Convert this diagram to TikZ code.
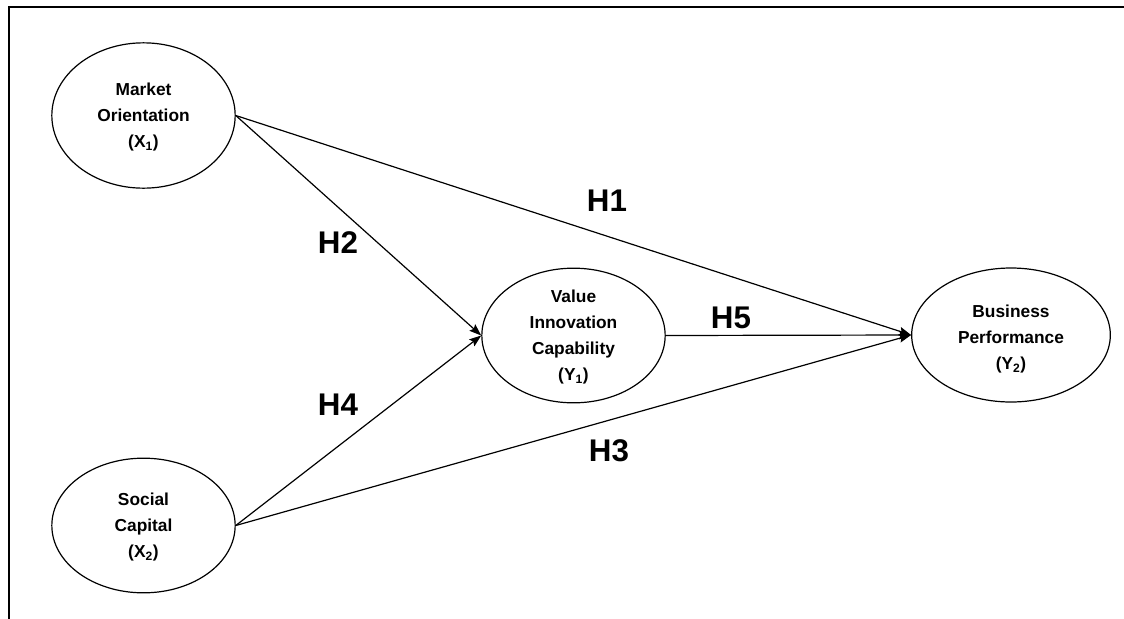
\documentclass[tikz,border=0pt]{standalone}
\usepackage{fontspec}
\setmainfont{Liberation Sans}
\usetikzlibrary{shapes.geometric,arrows.meta}
\tikzset{
  construct/.style={draw=black, line width=0.9pt, ellipse, inner sep=0pt},
  ctext/.style={align=center, font=\fontsize{13}{19.5}\selectfont\bfseries, inner sep=0pt},
  hyp/.style={font=\fontsize{23.5}{28}\selectfont\bfseries, inner sep=0pt},
  path/.style={draw=black, line width=0.9pt, -{Stealth[length=9pt,width=6.5pt,inset=1.5pt]}},
  frame/.style={draw=black, line width=1.3pt}
}
\begin{document}
\begin{tikzpicture}[x=0.75pt,y=-0.75pt]
\useasboundingbox (0,0) rectangle (1124,618);
% frame (top and left edges)
\coordinate (ftr) at (1130,7);
\coordinate (ftl) at (9,7);
\coordinate (fbl) at (9,625);
\draw[frame] (ftr) -- (ftl) -- (fbl);
% constructs
\node[construct, minimum width=137.5pt, minimum height=109pt] (mo) at (143.5,115.5) {};
\node[construct, minimum width=137.5pt, minimum height=101pt] (sc) at (143.5,525.5) {};
\node[construct, minimum width=137.5pt, minimum height=101pt] (vic) at (573.5,335.5) {};
\node[construct, minimum width=149pt, minimum height=100.5pt] (bp) at (1011,335) {};
\node[ctext] (mot) at (143.5,117) {Market\\Orientation\\(X\textsubscript{1})};
\node[ctext] (sct) at (143.5,527) {Social\\Capital\\(X\textsubscript{2})};
\node[ctext] (vict) at (573.5,337.5) {Value\\Innovation\\Capability\\(Y\textsubscript{1})};
\node[ctext] (bpt) at (1011,339) {Business\\Performance\\(Y\textsubscript{2})};
% paths
\draw[path] (mo.east) -- (bp.west);
\draw[path] (mo.east) -- (vic.west);
\draw[path] (sc.east) -- (vic.west);
\draw[path] (sc.east) -- (bp.west);
\draw[path] (vic.east) -- (bp.west);
% hypothesis labels
\node[hyp] (h1) at (607,201) {H1};
\node[hyp] (h2) at (338,243) {H2};
\node[hyp] (h3) at (609,451) {H3};
\node[hyp] (h4) at (338,405) {H4};
\node[hyp] (h5) at (731,318) {H5};
\end{tikzpicture}
\end{document}
